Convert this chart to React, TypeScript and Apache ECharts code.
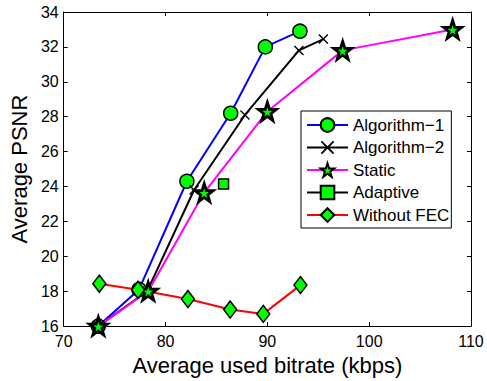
import React, { useEffect, useRef } from "react";
import * as echarts from "echarts";

const seriesNames = ["Algorithm\u22121", "Algorithm\u22122", "Static", "Adaptive", "Without FEC"];

const alg1X = [73.4, 77.4, 82.1, 86.4, 89.8, 93.2];
const alg1Y = [16.0, 18.1, 24.3, 28.2, 32.0, 32.9];

const alg2X = [73.4, 78.2, 82.8, 87.8, 93.1, 95.5];
const alg2Y = [16.0, 18.0, 23.8, 28.1, 31.8, 32.45];

const staticX = [73.4, 78.3, 83.8, 90.0, 97.4, 108.2];
const staticY = [16.0, 18.0, 23.65, 28.3, 31.8, 33.0];

const adaptiveX = [85.7];
const adaptiveY = [24.15];

const noFecX = [73.5, 77.3, 82.2, 86.35, 89.6, 93.25];
const noFecY = [18.43, 18.08, 17.55, 16.95, 16.7, 18.35];

const xTicks = { min: 70, max: 110, interval: 10 };
const yTicks = { min: 16, max: 34, interval: 2 };

const STAR =
  "path://M50,0 L61.8,35.1 L98.1,35.1 L68.8,56.7 L79.4,91 L50,70 L20.6,91 L31.2,56.7 L1.9,35.1 L38.2,35.1 Z";
const CROSS =
  "path://M2,0 L10,8 L18,0 L20,2 L12,10 L20,18 L18,20 L10,12 L2,20 L0,18 L8,10 L0,2 Z";

const FONT = "'Liberation Sans', Arial, Helvetica, sans-serif";
const GREEN = "#00ff00";

function zip(xs: number[], ys: number[]) {
  return xs.map((x, i) => [x, ys[i]]);
}

export default function App() {
  const ref = useRef<HTMLDivElement>(null);
  useEffect(() => {
    if (!ref.current) return;
    const chart = echarts.init(ref.current, undefined, { renderer: "svg" });
    const axisCommon = {
      axisLine: { show: true, lineStyle: { color: "#000", width: 1 } },
      axisTick: { show: true, inside: true, length: 4, lineStyle: { color: "#000" } },
      splitLine: { show: false },
    };
    chart.setOption({
      animation: false,
      backgroundColor: "#fff",
      textStyle: { fontFamily: FONT },
      grid: { left: 62, right: 16, top: 12, bottom: 50, containLabel: false },
      xAxis: [
        {
          type: "value",
          ...xTicks,
          position: "bottom",
          ...axisCommon,
          axisLabel: { color: "#000", fontSize: 16, fontFamily: FONT, margin: 7 },
          name: "Average used bitrate (kbps)",
          nameLocation: "middle",
          nameGap: 22,
          nameTextStyle: { color: "#000", fontSize: 22, fontFamily: FONT },
        },
        {
          type: "value",
          ...xTicks,
          position: "top",
          ...axisCommon,
          axisLabel: { show: false },
        },
      ],
      yAxis: [
        {
          type: "value",
          ...yTicks,
          position: "left",
          ...axisCommon,
          axisLabel: { color: "#000", fontSize: 16, fontFamily: FONT, margin: 5 },
          name: "Average PSNR",
          nameLocation: "middle",
          nameGap: 30,
          nameTextStyle: { color: "#000", fontSize: 22, fontFamily: FONT },
        },
        {
          type: "value",
          ...yTicks,
          position: "right",
          ...axisCommon,
          axisLabel: { show: false },
        },
      ],
      legend: {
        orient: "vertical",
        left: 301,
        top: 111,
        padding: [5.5, 2, 4.5, 5],
        itemWidth: 41,
        itemHeight: 17,
        itemGap: 5.5,
        backgroundColor: "#fff",
        borderColor: "#000",
        borderWidth: 1,
        borderRadius: 0,
        textStyle: { color: "#000", fontSize: 17, fontFamily: FONT },
        data: seriesNames,
      },
      series: [
        {
          name: seriesNames[0],
          type: "line",
          data: zip(alg1X, alg1Y),
          symbol: "circle",
          symbolSize: 14,
          lineStyle: { color: "#0000ff", width: 2 },
          itemStyle: { color: GREEN, borderColor: "#000", borderWidth: 1.5 },
        },
        {
          name: seriesNames[1],
          type: "line",
          data: zip(alg2X, alg2Y),
          symbol: CROSS,
          symbolSize: 10,
          lineStyle: { color: "#000", width: 2 },
          itemStyle: { color: "#000", borderWidth: 0 },
        },
        {
          name: seriesNames[2],
          type: "line",
          data: zip(staticX, staticY),
          symbol: STAR,
          symbolSize: 18,
          lineStyle: { color: "#ff00ff", width: 2 },
          itemStyle: { color: GREEN, borderColor: "#000", borderWidth: 2.8 },
        },
        {
          name: seriesNames[3],
          type: "line",
          data: zip(adaptiveX, adaptiveY),
          symbol: "rect",
          symbolSize: 10,
          lineStyle: { color: "#000", width: 2 },
          itemStyle: { color: GREEN, borderColor: "#000", borderWidth: 1.5 },
        },
        {
          name: seriesNames[4],
          type: "line",
          data: zip(noFecX, noFecY),
          symbol: "diamond",
          symbolSize: [13, 17],
          lineStyle: { color: "#ff0000", width: 2 },
          itemStyle: { color: GREEN, borderColor: "#000", borderWidth: 1.5 },
        },
      ],
    });
    return () => chart.dispose();
  }, []);
  return (
    <div
      ref={ref}
      style={{ position: "absolute", left: 0, top: 0, width: 487, height: 381 }}
    />
  );
}
